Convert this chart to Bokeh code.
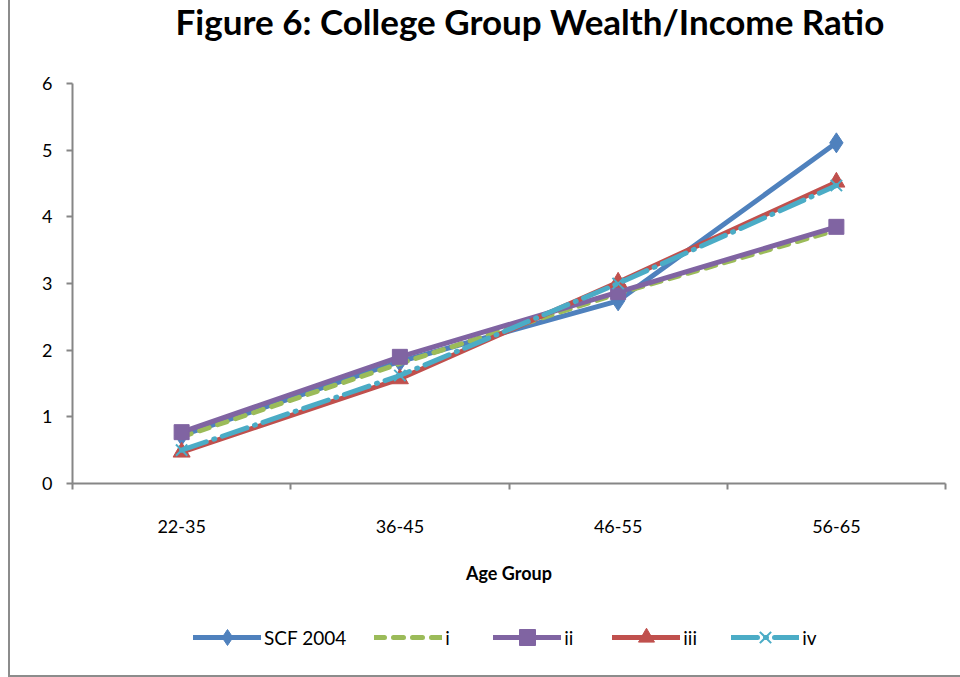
from bokeh.plotting import figure
from bokeh.models import FixedTicker, Legend, LegendItem, Range1d, Title
from bokeh.layouts import column
from bokeh.embed import file_html
from bokeh.resources import INLINE

categories = ["22-35", "36-45", "46-55", "56-65"]
scf2004 = [0.72, 1.83, 2.74, 5.11]
series_i = [0.70, 1.80, 2.85, 3.80]
series_ii = [0.77, 1.90, 2.87, 3.85]
series_iii = [0.47, 1.57, 3.02, 4.52]
series_iv = [0.50, 1.62, 3.00, 4.47]
y_ticks = [0, 1, 2, 3, 4, 5, 6]

FONT = "Lato"
GRAY = "#868686"

xs = [k + 0.5 for k in range(len(categories))]

p = figure(frame_width=873, frame_height=400, output_backend="svg", toolbar_location=None,
           x_range=Range1d(0, len(categories)), y_range=Range1d(0, 6),
           min_border_left=62, min_border_right=8, min_border_top=83,
           min_border_bottom=110,
           title="Figure 6: College Group Wealth/Income Ratio")

# spacer title between frame and main title
p.add_layout(Title(text=" ", text_font_size="18px", standoff=24), "above")

p.title.text_font = FONT
p.title.text_font_size = "35px"
p.title.text_font_style = "bold"
p.title.align = "left"
p.title.offset = 103
p.title.standoff = -8
p.title.text_color = "black"

p.grid.visible = False
p.outline_line_color = None
p.background_fill_color = "white"
p.border_fill_color = "white"

# x axis
p.xaxis.ticker = FixedTicker(ticks=xs, minor_ticks=list(range(len(categories) + 1)))
p.xaxis.major_label_overrides = {x: c for x, c in zip(xs, categories)}
p.xaxis.major_tick_out = 0
p.xaxis.major_tick_in = 0
p.xaxis.minor_tick_out = 6
p.xaxis.minor_tick_in = 0
p.xaxis.minor_tick_line_color = GRAY
p.xaxis.minor_tick_line_width = 2
p.xaxis.axis_line_color = GRAY
p.xaxis.axis_line_width = 2
p.xaxis.major_label_text_font = FONT
p.xaxis.major_label_text_font_size = "18px"
p.xaxis.major_label_text_color = "black"
p.xaxis.major_label_standoff = 30
p.xaxis.axis_label = "Age Group"
p.xaxis.axis_label_text_font = FONT
p.xaxis.axis_label_text_font_size = "18px"
p.xaxis.axis_label_text_font_style = "bold"
p.xaxis.axis_label_text_color = "black"
p.xaxis.axis_label_standoff = 26

# y axis
p.yaxis.ticker = FixedTicker(ticks=y_ticks, minor_ticks=[])
p.yaxis.major_tick_out = 6
p.yaxis.major_tick_in = 0
p.yaxis.major_tick_line_color = GRAY
p.yaxis.major_tick_line_width = 2
p.yaxis.axis_line_color = GRAY
p.yaxis.axis_line_width = 2
p.yaxis.major_label_text_font = FONT
p.yaxis.major_label_text_font_size = "18px"
p.yaxis.major_label_text_color = "black"
p.yaxis.major_label_standoff = 14

specs = [
    ("SCF 2004", scf2004, "#4F81BD", "solid", "diamond", 20),
    ("i", series_i, "#9BBB59", "10 9", None, 0),
    ("ii", series_ii, "#8064A2", "solid", "square", 15),
    ("iii", series_iii, "#C0504D", "solid", "triangle", 17),
    ("iv", series_iv, "#4BACC6", "26 8 1 8", "x", 16),
]

# legend holder figure: same series drawn off-range so only the legend shows
lf = figure(width=950, height=82, output_backend="svg", toolbar_location=None,
            x_axis_location=None, y_axis_location=None,
            min_border_left=0, min_border_right=0, min_border_top=0, min_border_bottom=0,
            x_range=Range1d(-100, -99), y_range=Range1d(-100, -99))
lf.grid.visible = False
lf.outline_line_color = None
lf.background_fill_color = "white"
lf.border_fill_color = "white"

items = []
for name, vals, color, dash, marker, size in specs:
    line_kw = dict(line_color=color, line_width=5, line_dash=dash,
                   line_cap="round", line_join="round")
    p.line(xs, vals, **line_kw)
    rs = [lf.line(xs, vals, **line_kw)]
    if marker:
        if marker == "x":
            mk = dict(marker=marker, size=size, line_color=color, line_width=2)
        else:
            mk = dict(marker=marker, size=size, fill_color=color, line_color=color)
        p.scatter(xs, vals, **mk)
        rs.append(lf.scatter(xs, vals, **mk))
    items.append(LegendItem(label=name, renderers=rs))

legend = Legend(items=items, orientation="horizontal", location=(121, 18))
legend.label_text_font = FONT
legend.label_text_font_size = "19px"
legend.label_text_color = "black"
legend.glyph_width = 68
legend.glyph_height = 40
legend.label_height = 40
legend.label_standoff = 3
legend.spacing = 28
legend.padding = 0
legend.margin = 0
legend.border_line_color = None
legend.background_fill_alpha = 0
lf.add_layout(legend, "center")

layout = column(p, lf, spacing=0)
layout.styles = {"margin-left": "8px", "border-left": "2px solid #8c8c8c",
                 "border-bottom": "2px solid #8c8c8c"}

open("out.html", "w").write(file_html(layout, INLINE))
